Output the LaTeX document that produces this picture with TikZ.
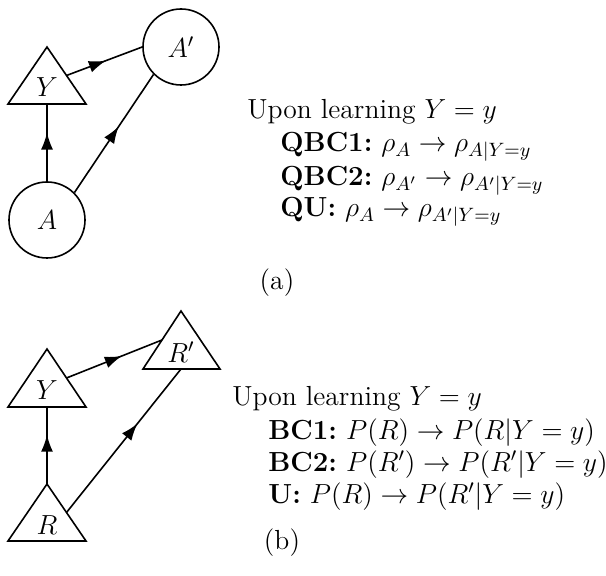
\RequirePackage{fix-cm}
\documentclass[12pt,tikz,border=0pt]{standalone}
\usetikzlibrary{arrows.meta,decorations.markings}
\begin{document}
\begin{tikzpicture}[x=0.5pt,y=-0.5pt,
  every node/.style={font=\fontsize{13.8pt}{16pt}\selectfont},
  shp/.style={line width=0.8pt},
  edge/.style={line width=0.8pt},
  midarr/.style={postaction={decorate},decoration={markings,
     mark=at position #1 with {\arrow{Latex[length=8.5pt,width=6pt]}}}},
  lbl/.style={inner sep=0pt},
  txt/.style={inner sep=0pt,anchor=base west}]
\path[use as bounding box] (0,0) rectangle (606,576);
% ---------- (a) ----------
\node[shp,draw,circle,minimum size=38pt,inner sep=0pt] (Ap) at (181,47) {$A'$};
\node[shp,draw,circle,minimum size=38pt,inner sep=0pt] (A) at (47,220) {$A$};
% triangle Y (a)
\coordinate (Ya-top) at (47,47);
\coordinate (Ya-bl) at (8,104);
\coordinate (Ya-br) at (86,104);
\coordinate (Ya-bot) at (47,104);
\coordinate (Ya-r) at (66.5,75.5);
\draw[shp,line join=miter] (Ya-top) -- (Ya-br) -- (Ya-bl) -- cycle;
\node[lbl] (Ya) at (47,87) {$Y$};
\draw[edge,midarr=0.63] (A.north) -- (Ya-bot);
\draw[edge,midarr=0.52] (Ya-r) -- (Ap.west);
\draw[edge,midarr=0.56] (A.north east) -- (Ap.south west);
\node[txt] (ta0) at (247,119) {Upon learning $Y=y$};
\node[txt] (ta1) at (280,152) {\textbf{QBC1:}~$\rho_A\rightarrow\rho_{A|Y=y}$};
\node[txt] (ta2) at (280,186) {\textbf{QBC2:}~$\rho_{A'}\rightarrow\rho_{A'|Y=y}$};
\node[txt] (ta3) at (280,217) {\textbf{QU:}~$\rho_A\rightarrow\rho_{A'|Y=y}$};
\node[lbl] (capa) at (277,283) {(a)};
% ---------- (b) ----------
\coordinate (Rp-top) at (181,311);
\coordinate (Rp-bl) at (143,369);
\coordinate (Rp-br) at (220,369);
\coordinate (Rp-bot) at (181,369);
\coordinate (Rp-l) at (162,340);
\draw[shp,line join=miter] (Rp-top) -- (Rp-br) -- (Rp-bl) -- cycle;
\node[lbl] (Rp) at (181,352) {$R'$};
\coordinate (Yb-top) at (47,349);
\coordinate (Yb-bl) at (8,407);
\coordinate (Yb-br) at (86,407);
\coordinate (Yb-bot) at (47,407);
\coordinate (Yb-r) at (66.5,378);
\draw[shp,line join=miter] (Yb-top) -- (Yb-br) -- (Yb-bl) -- cycle;
\node[lbl] (Yb) at (47,390) {$Y$};
\coordinate (R-top) at (47,484);
\coordinate (R-bl) at (8,541);
\coordinate (R-br) at (86,541);
\coordinate (R-r) at (66.5,512.5);
\draw[shp,line join=miter] (R-top) -- (R-br) -- (R-bl) -- cycle;
\node[lbl] (R) at (47,525) {$R$};
\draw[edge,midarr=0.64] (R-top) -- (Yb-bot);
\draw[edge,midarr=0.58] (Yb-r) -- (Rp-l);
\draw[edge,midarr=0.62] (R-r) -- (Rp-bot);
\node[txt] (tb0) at (232,406) {Upon learning $Y=y$};
\node[txt] (tb1) at (268,440) {\textbf{BC1:}~$P(R)\rightarrow P(R|Y=y)$};
\node[txt] (tb2) at (268,472) {\textbf{BC2:}~$P(R')\rightarrow P(R'|Y=y)$};
\node[txt] (tb3) at (268,504) {\textbf{U:}~$P(R)\rightarrow P(R'|Y=y)$};
\node[lbl] (capb) at (282,543) {(b)};
\end{tikzpicture}
\end{document}
